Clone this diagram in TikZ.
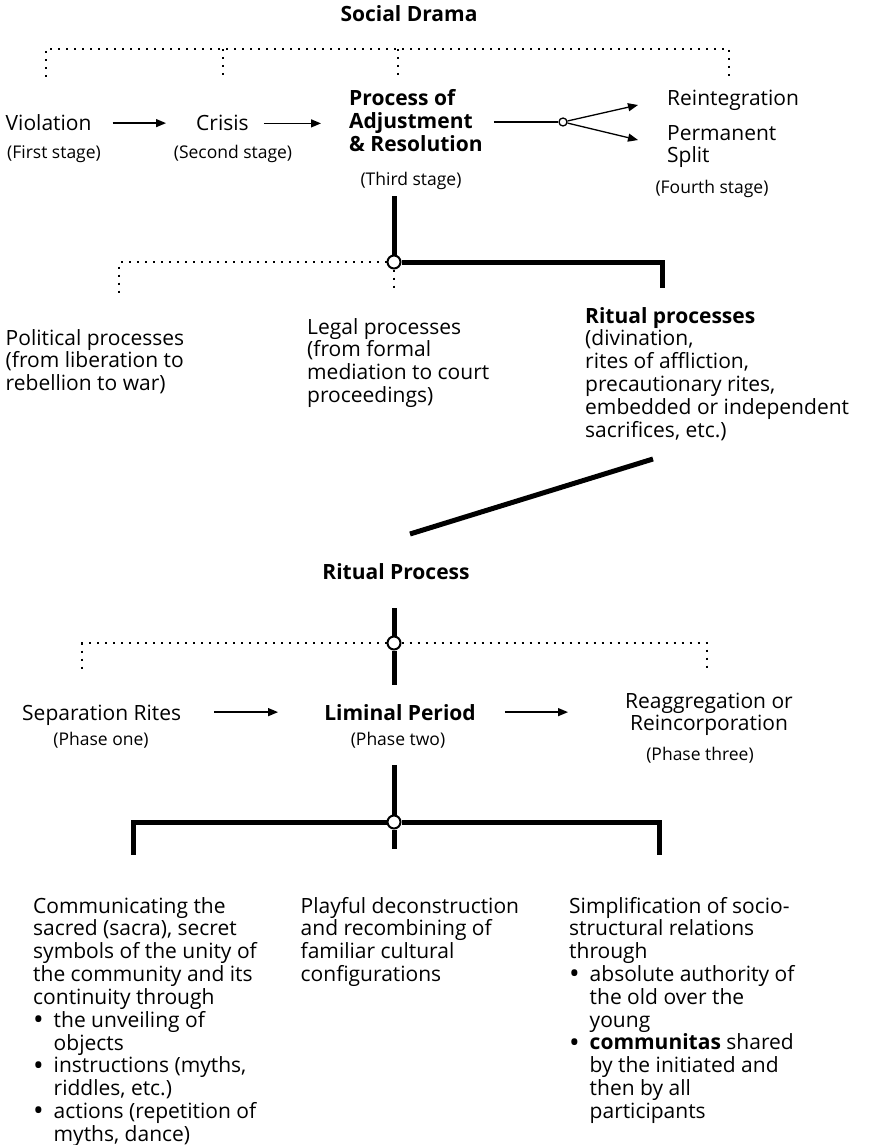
\documentclass[tikz,border=0pt]{standalone}
\usepackage{fontspec}
\usepackage{graphicx}
\setmainfont{Open Sans}
\usetikzlibrary{arrows.meta}
\newcommand{\stack}[2][l]{\begin{tabular}[t]{@{}#1@{}}#2\end{tabular}}
\newcommand{\bul}{\makebox[20.5pt][l]{\raisebox{-2.2pt}{\scalebox{1.35}{\textbullet}}}}
\newcommand{\ind}{\hspace*{20.5pt}}

\begin{document}
\begin{tikzpicture}[x=1pt,y=-1pt,
  txt/.style={inner sep=0pt,font=\fontsize{21}{22.8}\selectfont},
  hd/.style={inner sep=0pt,font=\fontsize{21}{22.8}\selectfont\bfseries},
  stage/.style={inner sep=0pt,font=\fontsize{17.5}{20}\selectfont},
  flow/.style={line width=1.3pt,-{Triangle[length=10pt,width=8pt]}},
  dots/.style={line width=2pt,dash pattern=on 2pt off 6pt},
  bar/.style={line width=5pt},
  hub/.style={circle,draw,fill=white,line width=2pt,inner sep=0pt,minimum size=13pt},
  fork/.style={circle,draw,fill=white,line width=1.3pt,inner sep=0pt,minimum size=8pt}]
\useasboundingbox (0,0) rectangle (869,1145);

\node[hd,anchor=base] (sdrama) at (409,22) {Social Drama};
\coordinate (bar) at (0,49);
\coordinate (d1) at (46,77);
\coordinate (d2) at (223,77);
\coordinate (d3) at (398,77);
\coordinate (d4) at (729,77);
\draw[dots] (d1) -- (d1 |- bar) -- (d4 |- bar) -- (d4);
\foreach \d in {d2,d3}
\draw[dots] (\d |- bar) -- (\d);

\node[txt,anchor=base west] (viol) at (5.5,131) {Violation};
\node[txt,anchor=base west] (crisis) at (196,131) {Crisis};
\node[hd,anchor=base west] (adjust) at (349,106) {\stack{Process of\\Adjustment\\\& Resolution}};
\node[txt,anchor=base west] (reint) at (667,106) {Reintegration};
\node[txt,anchor=base west] (split) at (667,140) {\stack{Permanent\\Split}};
\node[stage,anchor=base] (first) at (54,158) {(First stage)};
\node[stage,anchor=base] (second) at (233,158) {(Second stage)};
\node[stage,anchor=base] (third) at (411,185) {(Third stage)};
\node[stage,anchor=base] (fourth) at (712,193) {(Fourth stage)};
\draw[flow,shorten <=21pt,shorten >=30pt] (viol.east) -- (viol.east -| crisis.west);
\draw[flow,shorten <=15pt,shorten >=28pt] (crisis.east) -- (crisis.east -| adjust.west);
\node[fork] (fk) at (563,122) {};
\coordinate (r1) at (638,105);
\coordinate (r2) at (638,140);
\draw[line width=1.3pt,shorten <=11pt] (adjust.east |- fk) -- (fk);
\draw[flow] (fk) -- (r1);
\draw[flow] (fk) -- (r2);

\node[hub] (h1) at (394,262) {};
\coordinate (p1) at (119,293);
\coordinate (p2) at (394,293);
\coordinate (p3) at (662,288);
\draw[bar,shorten <=7pt] (h1 |- third.south) -- (h1);
\draw[bar] (h1) -| (p3);
\draw[dots] (h1) -| (p1);
\draw[dots] (h1) -- (p2);

\node[txt,anchor=base west] (pol) at (5.5,345) {\stack{Political processes\\(from liberation to\\rebellion to war)}};
\node[txt,anchor=base west] (leg) at (307,334) {\stack{Legal processes\\(from formal\\mediation to court\\proceedings)}};
\node[txt,anchor=base west] (ritp) at (585,323) {\stack{\textbf{Ritual processes}\\(divination,\\rites of affliction,\\precautionary rites,\\embedded or independent\\sacrifices, etc.)}};
\coordinate (g1) at (653,459);
\coordinate (g2) at (410,534);
\draw[bar] (g1) -- (g2);

\node[hd,anchor=base] (rproc) at (396,579) {Ritual Process};
\node[hub] (h2) at (394,643) {};
\node[hd,anchor=base] (lim) at (400,720) {Liminal Period};
\coordinate (q1) at (82,672);
\coordinate (q2) at (707,672);
\draw[bar,shorten <=29pt] (h2 |- rproc.south) -- (h2);
\draw[bar,shorten >=19pt] (h2) -- (h2 |- lim.north);
\draw[dots] (h2) -| (q1);
\draw[dots] (h2) -| (q2);

\node[txt,anchor=base west] (sep) at (22,720) {Separation Rites};
\node[txt,anchor=base] (reagg) at (709,708) {\stack[c]{Reaggregation or\\Reincorporation}};
\node[stage,anchor=base] (ph1) at (101,745) {(Phase one)};
\node[stage,anchor=base] (ph2) at (398,745) {(Phase two)};
\node[stage,anchor=base] (ph3) at (700,760) {(Phase three)};
\draw[flow,shorten <=33pt,shorten >=46pt] (sep.east |- lim.west) -- (lim.west);
\draw[flow,shorten <=29pt,shorten >=57pt] (lim.east) -- (lim.east -| reagg.west);

\node[hub] (h3) at (394,822) {};
\coordinate (b1) at (133,855);
\coordinate (b2) at (394,849);
\coordinate (b3) at (659,855);
\draw[bar,shorten <=17pt] (h3 |- ph2.south) -- (h3);
\draw[bar] (h3) -| (b1);
\draw[bar] (h3) -| (b3);
\draw[bar] (h3) -- (b2);

\node[txt,anchor=base west] (comm) at (33,913) {\stack{Communicating the\\sacred (sacra), secret\\symbols of the unity of\\the community and its\\continuity through\\\bul the unveiling of\\\ind objects\\\bul instructions (myths,\\\ind riddles, etc.)\\\bul actions (repetition of\\\ind myths, dance)}};
\node[txt,anchor=base west] (play) at (300.5,913) {\stack{Playful deconstruction\\and recombining of\\familiar cultural\\configurations}};
\node[txt,anchor=base west] (simp) at (569,913) {\stack{Simplification of socio-\\structural relations\\through\\\bul absolute authority of\\\ind the old over the\\\ind young\\\bul \textbf{communitas} shared\\\ind by the initiated and\\\ind then by all\\\ind participants}};
\end{tikzpicture}
\end{document}
